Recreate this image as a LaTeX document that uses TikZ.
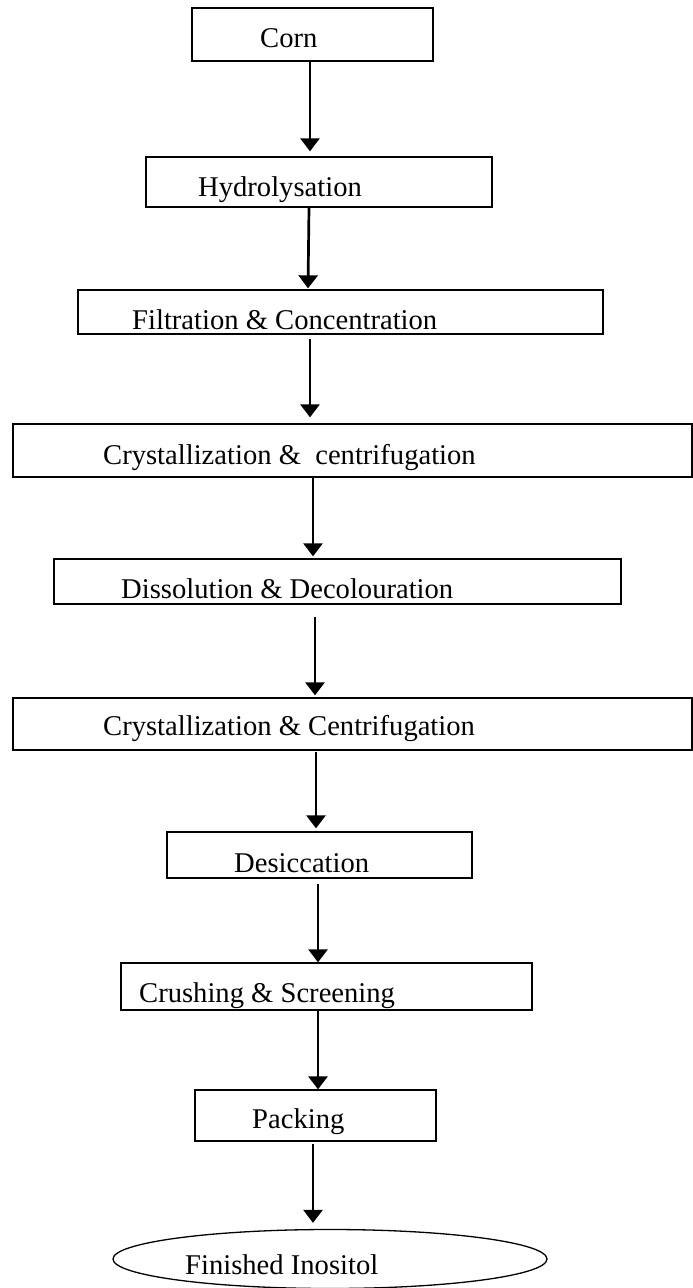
\documentclass[tikz,border=0pt]{standalone}
\usepackage{fontspec}
\setmainfont{Liberation Serif}
\usetikzlibrary{arrows.meta,shapes.geometric}
\begin{document}
\begin{tikzpicture}[x=1pt,y=-1pt,
  stepbox/.style={draw=black,line width=1.3pt,inner sep=0pt,rectangle},
  endbox/.style={draw=black,line width=1.3pt,inner sep=0pt,ellipse},
  lbl/.style={anchor=base west,inner sep=0pt,font=\fontsize{28.6}{34}\selectfont},
  arr/.style={line width=2.7pt,-{Triangle[width=19pt,length=13pt]}}]
\fill[white] (0,0) rectangle (693,1288);
\useasboundingbox (0,0) rectangle (693,1288);
% boxes
\node[stepbox,minimum width=241pt,minimum height=53pt] (corn) at (312.5,34.5) {};
\node[stepbox,minimum width=346pt,minimum height=50pt] (hyd) at (319,182) {};
\node[stepbox,minimum width=525pt,minimum height=44pt] (fil) at (340.5,312) {};
\node[stepbox,minimum width=679pt,minimum height=53pt] (cr1) at (352.5,450.5) {};
\node[stepbox,minimum width=567pt,minimum height=45pt] (dis) at (337.5,581.5) {};
\node[stepbox,minimum width=679pt,minimum height=52pt] (cr2) at (352.5,724) {};
\node[stepbox,minimum width=305pt,minimum height=46pt] (des) at (319.5,855) {};
\node[stepbox,minimum width=411pt,minimum height=47pt] (cru) at (326.5,986.5) {};
\node[stepbox,minimum width=241pt,minimum height=51pt] (pac) at (315.5,1115.5) {};
\node[endbox,minimum width=434pt,minimum height=59pt] (fin) at (330,1259) {};
% labels
\node[lbl] (t1) at (260,47) {Corn};
\node[lbl] (t2) at (198,196) {Hydrolysation};
\node[lbl] (t3) at (132,329) {Filtration \& Concentration};
\node[lbl] (t4) at (103,464) {Crystallization \&~ centrifugation};
\node[lbl] (t5) at (121,598) {Dissolution \& Decolouration};
\node[lbl] (t6) at (103,735) {Crystallization \& Centrifugation};
\node[lbl] (t7) at (234,872) {Desiccation};
\node[lbl] (t8) at (139,1002) {Crushing \& Screening};
\node[lbl] (t9) at (252,1128) {Packing};
\node[lbl] (t10) at (185,1274) {Finished Inositol};
% arrows
\draw[arr] ([xshift=-2.5pt]corn.south) -- ([xshift=-9pt,yshift=5pt]hyd.north);
\draw[arr] ([xshift=-10pt]hyd.south) -- ([xshift=-32.5pt,yshift=1pt]fil.north);
\draw[arr] ([xshift=-30.5pt,yshift=-4pt]fil.south) -- ([xshift=-42.5pt,yshift=6pt]cr1.north);
\draw[arr] ([xshift=-39.5pt]cr1.south) -- ([xshift=-24.5pt,yshift=2pt]dis.north);
\draw[arr] ([xshift=-22.5pt,yshift=-12pt]dis.south) -- ([xshift=-37.5pt,yshift=2pt]cr2.north);
\draw[arr] ([xshift=-36.5pt,yshift=-1pt]cr2.south) -- ([xshift=-3.5pt,yshift=3pt]des.north);
\draw[arr] ([xshift=-1.5pt,yshift=-5pt]des.south) -- ([xshift=-8.5pt]cru.north);
\draw[arr] ([xshift=-8.5pt]cru.south) -- ([xshift=2.5pt]pac.north);
\draw[arr] ([xshift=-2.5pt,yshift=-2pt]pac.south) -- ([xshift=-17pt,yshift=6pt]fin.north);
\end{tikzpicture}
\end{document}
